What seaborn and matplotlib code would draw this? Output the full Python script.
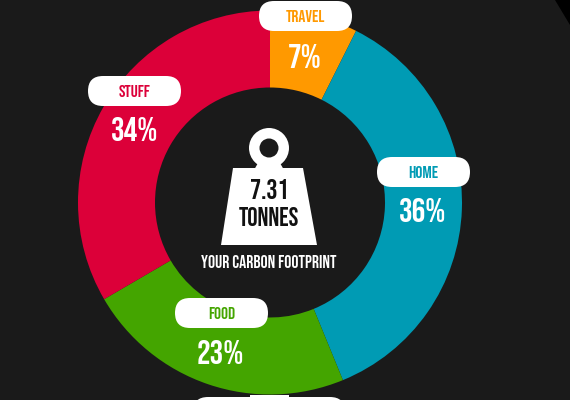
import matplotlib
matplotlib.use('Agg')
import matplotlib.pyplot as plt
import seaborn as sns
from matplotlib.patches import Circle, FancyBboxPatch, Polygon

categories = ['TRAVEL', 'HOME', 'FOOD', 'STUFF']
percent_labels = ['7%', '36%', '23%', '34%']
# arc sizes as drawn in the picture, they differ a little from the printed numbers
arc_shares = [7.4, 36.4, 22.8, 33.4]
total_label = '7.31'
unit_label = 'TONNES'
caption = 'YOUR CARBON FOOTPRINT'

colors = ['#FF9900', '#009BB4', '#44A500', '#DC0039']
bg = '#1A1A1A'

# label layout in pixels from the top left: pill left, pill top, percent x, percent y
layout = [(259, 1, 305, 56), (377, 157, 423, 210), (175, 298, 220, 352), (88, 76, 135, 129)]
PILL_W, PILL_H = 93, 30

sns.set_theme(style='white')
plt.rcParams['font.family'] = ['Bebas Neue', 'Liberation Sans', 'DejaVu Sans']

fig = plt.figure(figsize=(5.7, 4), dpi=100, facecolor=bg)
ax = fig.add_axes([0, 0, 1, 1])
ax.set_facecolor(bg)


def flip(y):
    return 400 - y


def pill(x, y, w, h):
    r = h / 2
    ax.add_patch(FancyBboxPatch((x + r, flip(y + h) + r), w - 2 * r, h - 2 * r,
                                boxstyle=f'round,pad={r}', fc='white', ec='none', zorder=3))


# top right corner of the dark card
ax.add_patch(Polygon([(555, 400), (570, 400), (570, 375)], fc='black', ec='none'))

ax.pie(arc_shares, colors=colors, startangle=90, counterclock=False,
       center=(270, flip(202.5)), radius=192, frame=True,
       wedgeprops={'width': 77, 'linewidth': 0})

for name, pct, color, (px, py, tx, ty) in zip(categories, percent_labels, colors, layout):
    pill(px, py, PILL_W, PILL_H)
    ax.text(px + PILL_W / 2, flip(py + PILL_H / 2), name, color=color, fontsize=12.5,
            ha='center', va='center_baseline', zorder=4)
    ax.text(tx, flip(ty), pct, color='white', fontsize=24.5,
            ha='center', va='center_baseline', zorder=4)

# part of the next panel's pill at the bottom edge
pill(193, 397, 152, 30)
ax.add_patch(Polygon([(250, flip(395)), (289, flip(395)), (289, 0), (250, 0)], fc='white', ec='none', zorder=3))

# weight icon
ax.add_patch(Circle((269, flip(148)), 20, fc='white', ec='none', zorder=3))
ax.add_patch(Circle((269, flip(148)), 9.5, fc=bg, ec='none', zorder=4))
ax.add_patch(Polygon([(258, flip(163)), (280, flip(163)), (284, flip(170)), (254, flip(170))],
                     fc='white', ec='none', zorder=3))
ax.add_patch(Polygon([(233, flip(168)), (303, flip(168)), (317, flip(245)), (221, flip(245))],
                     fc='white', ec='none', zorder=3))
ax.text(269, flip(189), total_label, color='#111111', fontsize=20,
        ha='center', va='center_baseline', zorder=5)
ax.text(269, flip(217), unit_label, color='#111111', fontsize=18.5,
        ha='center', va='center_baseline', zorder=5)
ax.text(269, flip(262), caption, color='white', fontsize=12.7,
        ha='center', va='center_baseline', zorder=5)

ax.set_xlim(0, 570)
ax.set_ylim(0, 400)
ax.set_aspect('equal')
ax.axis('off')
fig.savefig('out.png', dpi=100, facecolor=bg)
